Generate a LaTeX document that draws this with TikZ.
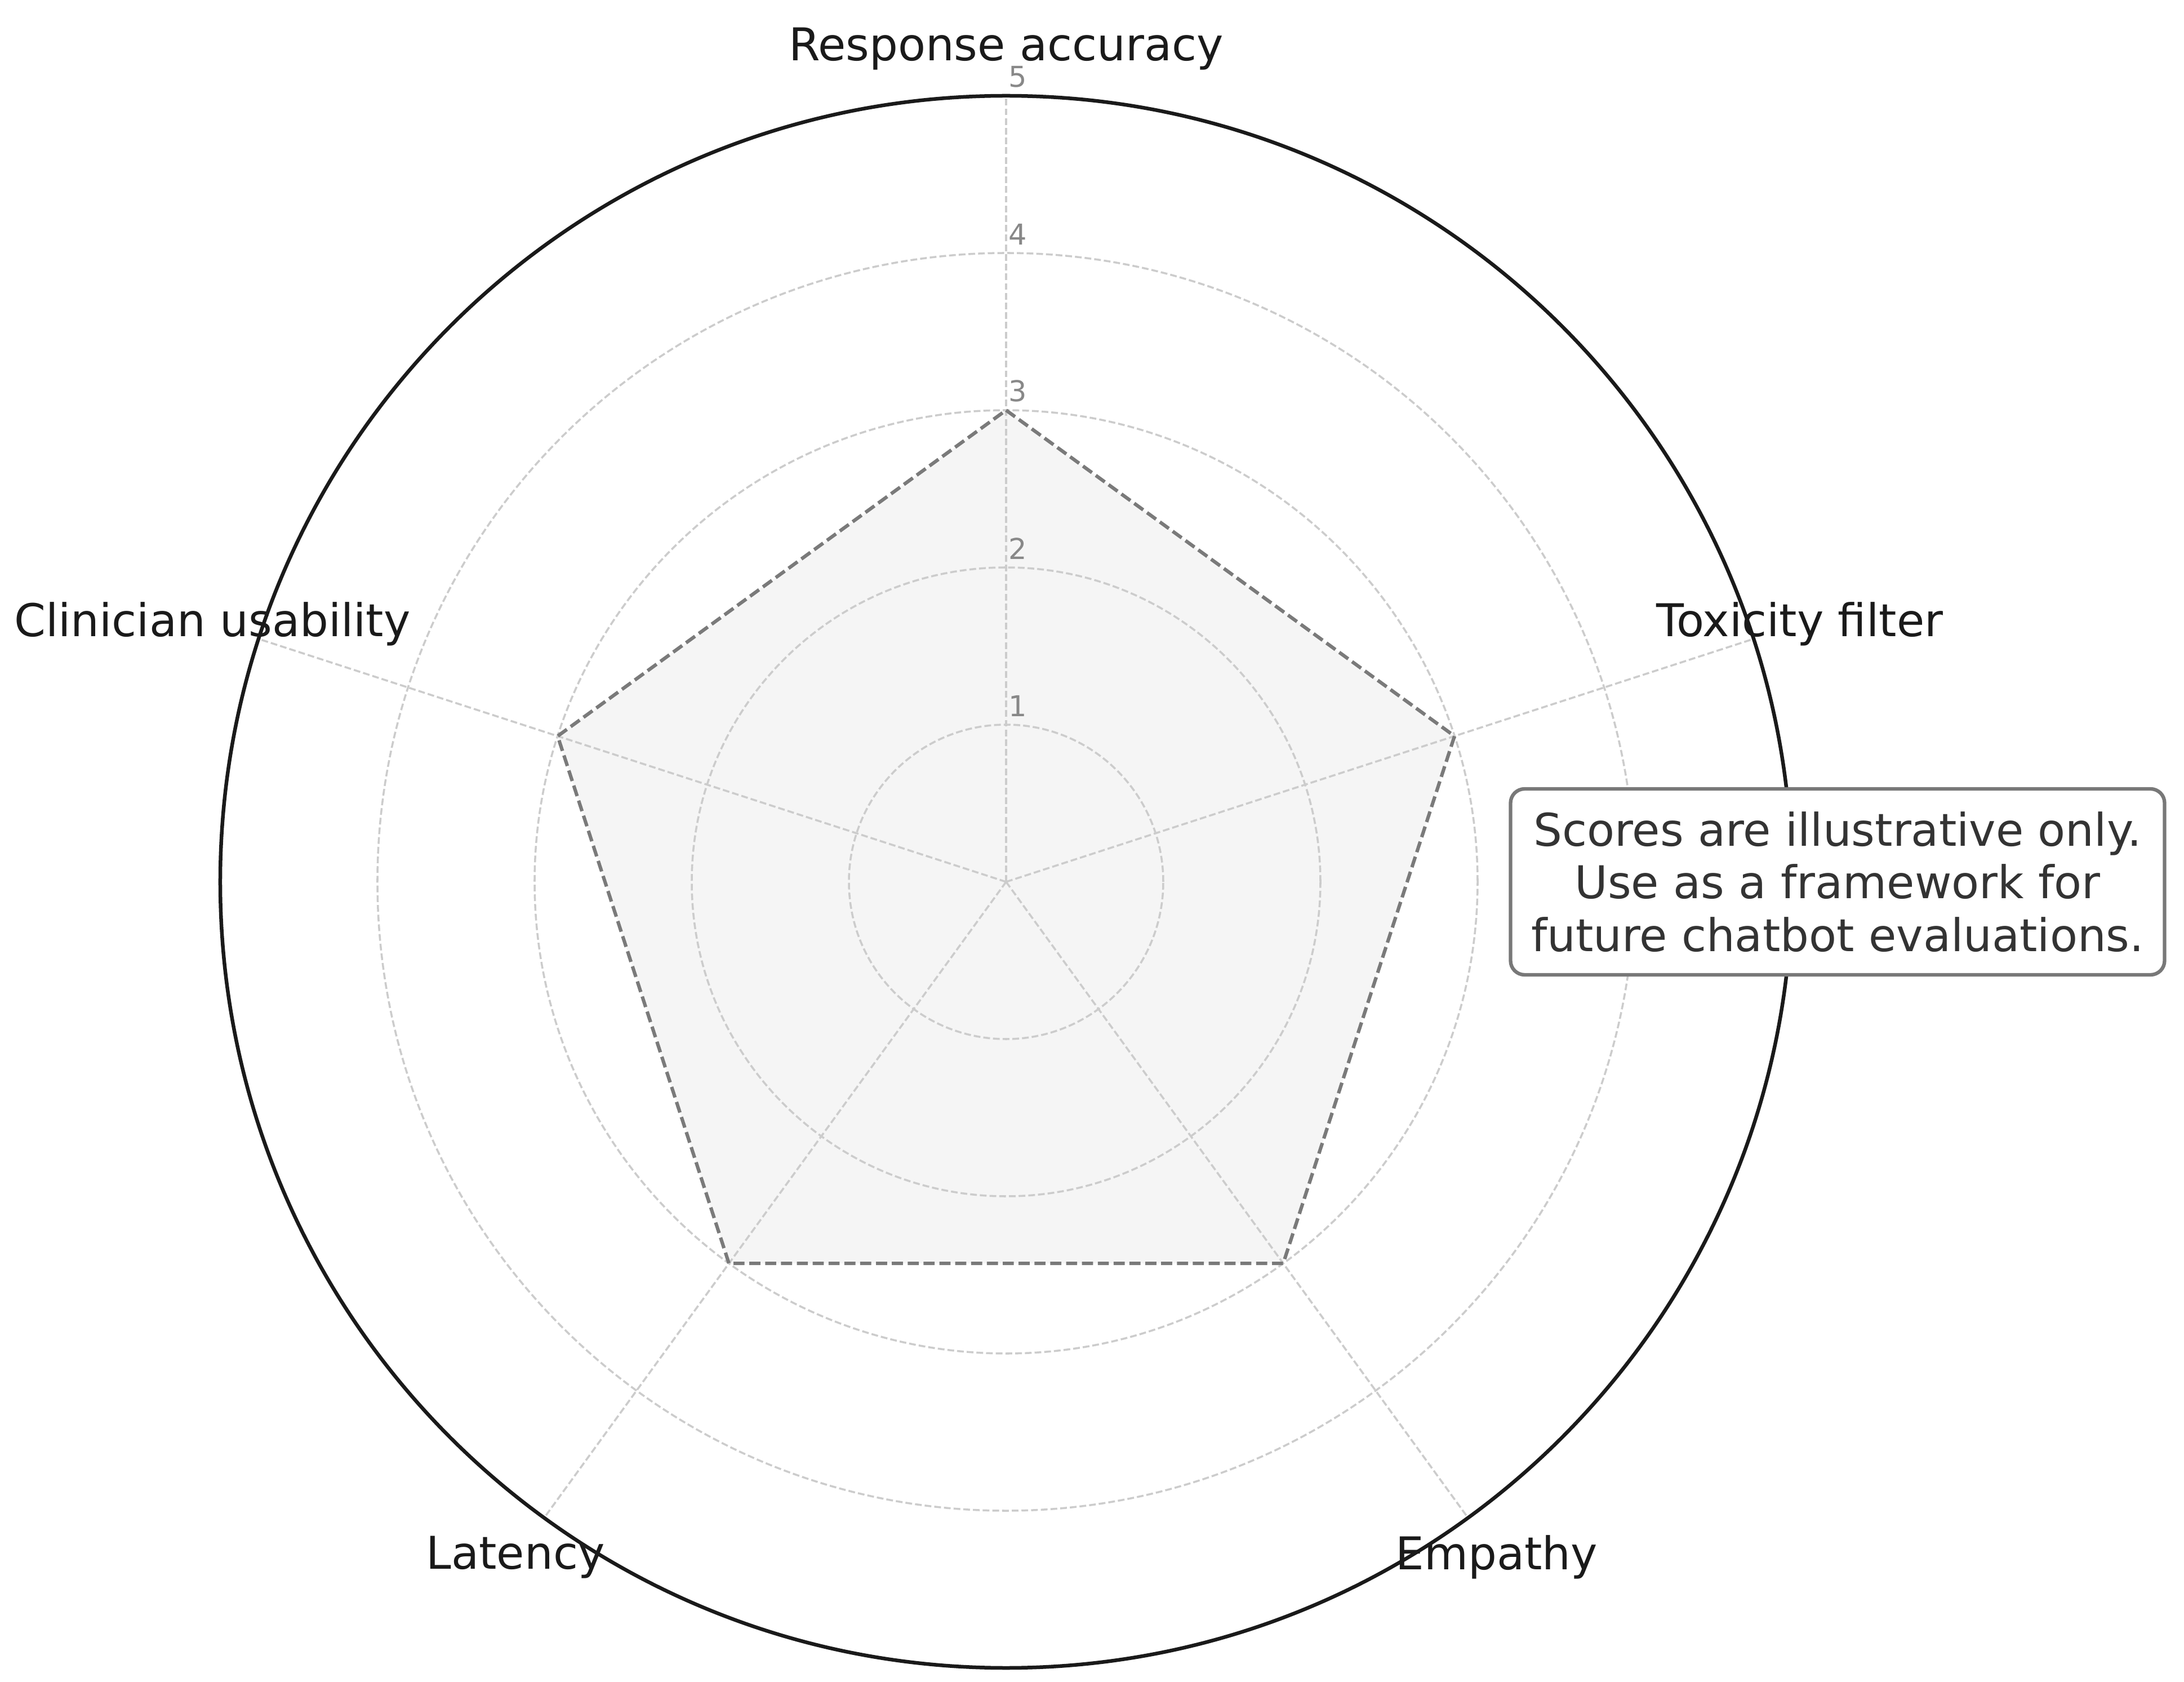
\documentclass[tikz,border=0pt]{standalone}
\usepackage{fontspec}
\setmainfont{DejaVu Sans}
\usepackage{xcolor}
\definecolor{rejillagris}{HTML}{CCCCCC}
\definecolor{lineagris}{HTML}{7A7A7A}
\definecolor{rellenogris}{HTML}{F5F5F5}
\definecolor{marcagris}{HTML}{888888}
\definecolor{casinegro}{HTML}{1A1A1A}
\definecolor{notagris}{HTML}{333333}
\definecolor{bordenota}{HTML}{787878}

\begin{document}
\begin{tikzpicture}[
    x=2.79cm, y=2.79cm,
    every node/.style={font=\fontsize{22.8}{26.5}\selectfont, text=casinegro},
    rejilla/.style={draw=rejillagris, line width=1pt, dash pattern=on 3.4pt off 1.5pt},
    poligono/.style={draw=lineagris, line width=1.75pt, dash pattern=on 5.6pt off 2.4pt},
    borde/.style={draw=casinegro, line width=1.85pt},
    marca/.style={anchor=south west, inner xsep=1pt, inner ysep=4pt, text=marcagris,
                  font=\fontsize{14.5}{17}\selectfont},
    nota/.style={draw=bordenota, line width=1.8pt, fill=white, rounded corners=0.25cm,
                 align=center, text=notagris, inner sep=0pt,
                 minimum width=11.61cm, minimum height=3.30cm}
]

% Fondo y margenes
\fill[white] (-17.86cm,-14.20cm) rectangle (20.91cm,15.65cm);
\useasboundingbox (-17.86cm,-14.20cm) rectangle (20.91cm,15.65cm);

% Centro y extremos de los ejes
\coordinate (O) at (0,0);
\coordinate (eAcc) at (90:5);
\coordinate (eTox) at (18:5);
\coordinate (eEmp) at (-54:5);
\coordinate (eLat) at (-126:5);
\coordinate (eUsa) at (162:5);

% Puntuaciones
\coordinate (pAcc) at (90:3);
\coordinate (pTox) at (18:3);
\coordinate (pEmp) at (-54:3);
\coordinate (pLat) at (-126:3);
\coordinate (pUsa) at (162:3);

% Relleno del poligono
\fill[rellenogris] (pAcc) -- (pTox) -- (pEmp) -- (pLat) -- (pUsa) -- cycle;

% Rejilla circular
\draw[rejilla] (O) circle[radius=1];
\draw[rejilla] (O) circle[radius=2];
\draw[rejilla] (O) circle[radius=3];
\draw[rejilla] (O) circle[radius=4];

% Ejes punteados
\draw[rejilla] (O) -- (eAcc);
\draw[rejilla] (O) -- (eTox);
\draw[rejilla] (O) -- (eEmp);
\draw[rejilla] (O) -- (eLat);
\draw[rejilla] (O) -- (eUsa);

% Contorno del poligono
\draw[poligono] (pAcc) -- (pTox) -- (pEmp) -- (pLat) -- (pUsa) -- cycle;

% Borde exterior
\draw[borde] (O) circle[radius=5];

% Marcas de escala
\node[marca] (m1) at (90:1) {1};
\node[marca] (m2) at (90:2) {2};
\node[marca] (m3) at (90:3) {3};
\node[marca] (m4) at (90:4) {4};
\node[marca] (m5) at (90:5) {5};

% Etiquetas de los ejes
\node (acc) at (90:5.30) {Response accuracy};
\node (tox) at (18:5.31) {Toxicity filter};
\node (emp) at (-54:5.31) {Empathy};
\node (lat) at (-126:5.31) {Latency};
\node (usa) at (162:5.31) {Clinician usability};

% Nota
\node[nota] (nota) at (14.76cm,0) {Scores are illustrative only.\\Use as a framework for\\future chatbot evaluations.};

\end{tikzpicture}
\end{document}
